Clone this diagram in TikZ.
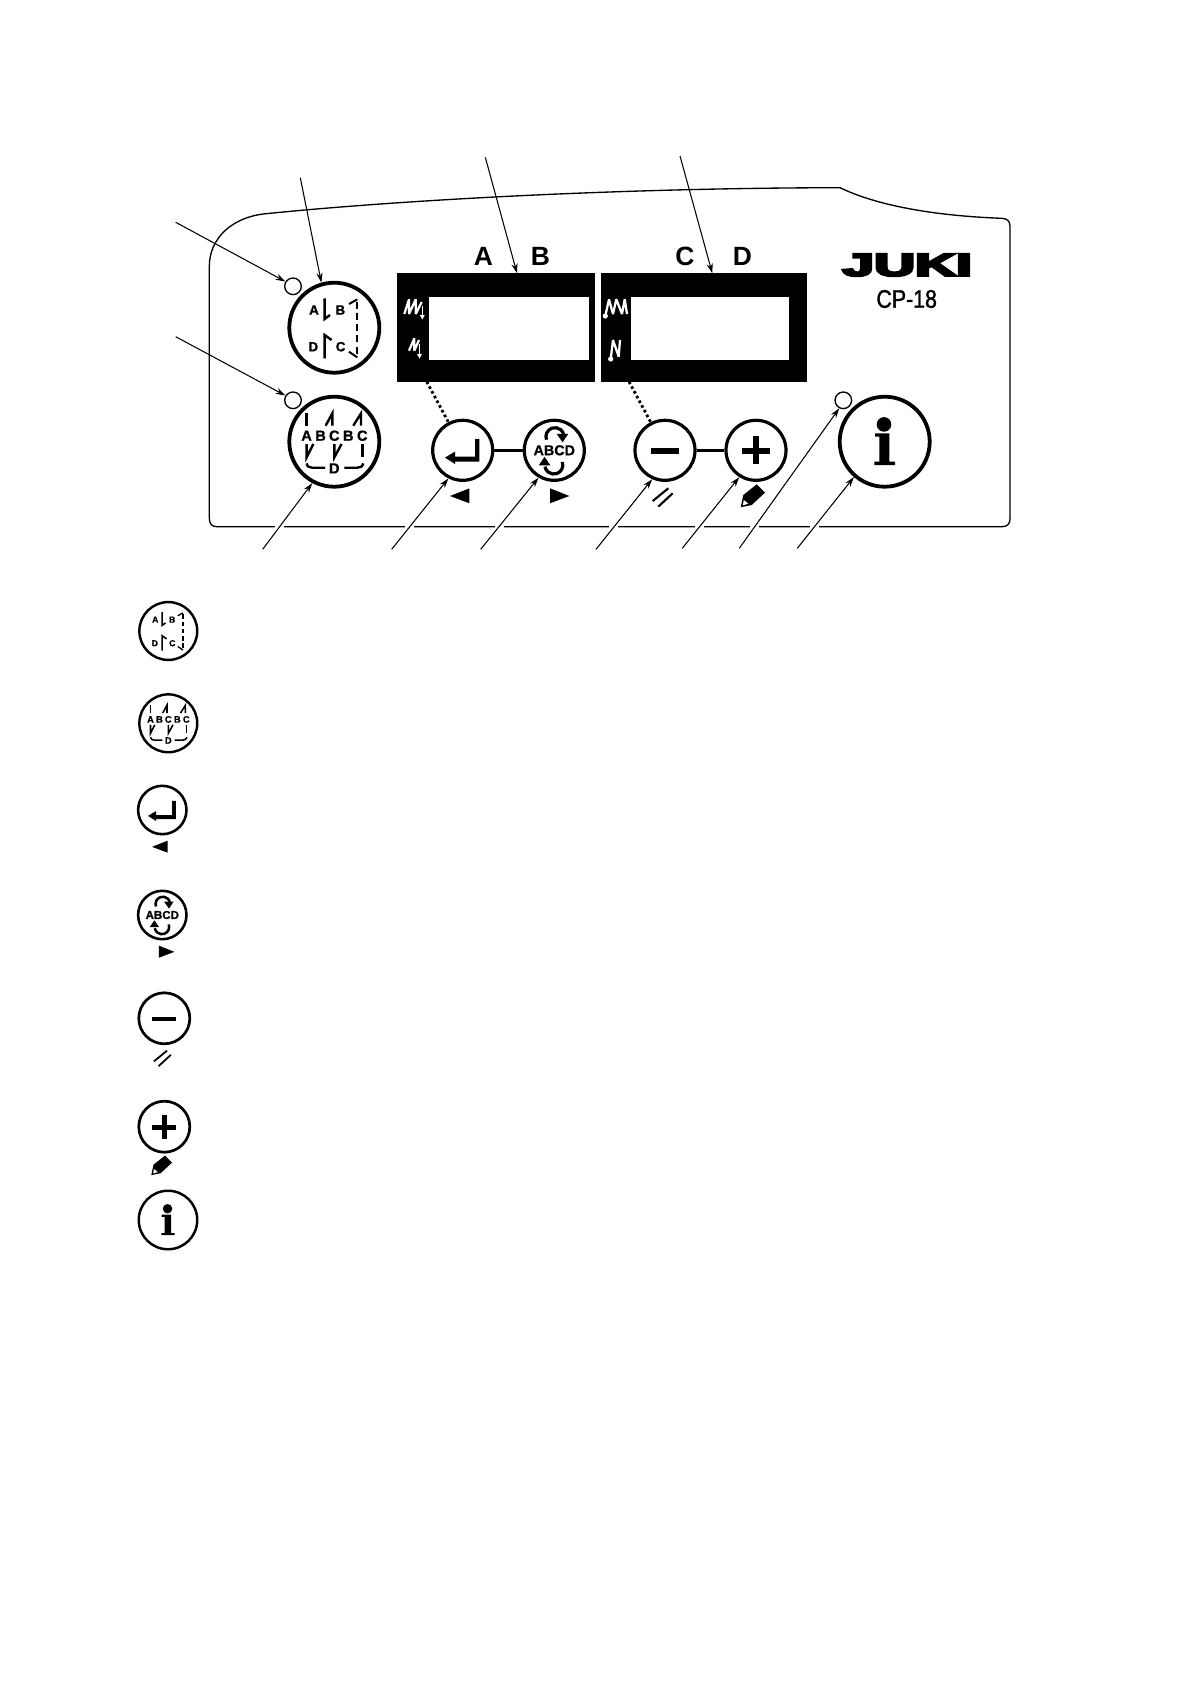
\documentclass[tikz,border=0pt]{standalone}
\usepackage{tikz}
\usepackage{graphicx}
\usepackage{fontspec}
\setsansfont{Liberation Sans}
\newfontfamily\logofont[FakeBold=7]{Liberation Sans Bold}
\newfontfamily\keyfont[FakeBold=0.8]{Liberation Sans Bold}
\newfontfamily\modelfont[FakeBold=1.5]{Liberation Sans}
\usetikzlibrary{arrows.meta}
\def\ks{1}
\tikzset{
	ks/.store in=\ks,
	sw/.style={line width=\ks*#1*0.709pt},
	listkey/.style={scale=#1,transform shape,ks=#1},
	bigring/.style={circle,draw,inner sep=0pt,sw=3.8,minimum size=2.25cm},
	smallring/.style={circle,draw,inner sep=0pt,sw=3.2,minimum size=1.5cm},
	led/.style={circle,draw,fill=white,inner sep=0pt,line width=0.95pt,minimum size=0.415cm},
	keytxt/.style={inner sep=0pt,font=\keyfont\fontsize{#1}{#1}\selectfont},
	slot/.style={inner sep=0pt,font=\sffamily\bfseries\fontsize{18.8}{20}\selectfont},
	lcdframe/.style={fill=black,inner sep=0pt,outer sep=0pt,minimum width=#1,minimum height=2.71cm},
	lcdface/.style={fill=white,inner sep=0pt,outer sep=0pt,minimum width=#1,minimum height=1.57cm},
	lcdmark/.style={draw=white,line width=1.6pt,miter limit=2},
	leader/.style={line width=0.75pt,-{Stealth[length=7pt,width=4.4pt]}},
	gapline/.style={draw=white,line width=1.6pt},
	dotline/.style={line width=2pt,dash pattern=on 1.9pt off 1.9pt},
	pics/modekey/.style={code={
		\node [bigring] (-ring) at (0,0) {};
		\node [keytxt=9.6] at (-20.3,17.7) {A};
		\node [keytxt=9.6] at (6,17.7) {B};
		\node [keytxt=9.6] at (6.3,-19) {C};
		\node [keytxt=9.6] at (-21,-19) {D};
		\draw [sw=2.4] (-9.7,29.3) -- (-9.7,8.7) -- (-4.3,12.7);
		\draw [sw=2.4] (-2.7,-12.3) -- (-9.7,-7.3) -- (-9.7,-30.7);
		\draw [sw=2] (14.7,23.7) -- (23,28.3);
		\draw [sw=2] (14.7,-24) -- (23,-29.7);
		\draw [sw=2,dash pattern=on \ks*5pt off \ks*3pt] (23,26) -- (23,-28);
	}},
	pics/cyclekey/.style={code={
		\node [bigring] (-ring) at (0,0) {};
		\node [keytxt=10.4] at (-27.7,6) {A};
		\node [keytxt=10.4] at (-13.7,6) {B};
		\node [keytxt=10.4] at (0,6) {C};
		\node [keytxt=10.4] at (14,6) {B};
		\node [keytxt=10.4] at (28,6) {C};
		\node [keytxt=10.4] at (0,-26.7) {D};
		\draw [sw=2.4] (-27.7,28.3) -- (-27.7,16);
		\draw [sw=2.4] (-8.7,16) -- (-2,28.3) -- (-2,16);
		\draw [sw=2.4] (19,16) -- (26.7,28.3) -- (26.7,16);
		\draw [sw=2.4] (-27.7,-2.3) -- (-27.7,-15.7) -- (-21,-2.3);
		\draw [sw=2.4] (0,-2.3) -- (0,-15.7) -- (7.3,-2.3);
		\draw [sw=2.4] (28,-2.3) -- (28,-15.7);
		\draw [sw=2.4] (-27.7,-21.7) .. controls (-27,-25) and (-25,-26) .. (-22,-26) -- (-9.3,-26);
		\draw [sw=2.4] (10,-26) -- (23,-26) .. controls (26,-26) and (28,-25) .. (29,-21.7);
	}},
	pics/enterkey/.style={code={
		\node [smallring] (-ring) at (0,0) {};
		\fill (12.3,11.3) -- (16.7,11.3) -- (16.7,-11.3) -- (-7.7,-11.3) -- (-7.7,-13.7) -- (-17.7,-7.3) -- (-7.7,-1.3) -- (-7.7,-6.3) -- (12.3,-6.3) -- cycle;
		\fill (-12.7,-45.7) -- (6.7,-38) -- (6.7,-53) -- cycle;
	}},
	pics/abcdkey/.style={code={
		\node [smallring] (-ring) at (0,0) {};
		\draw [sw=3.2] (-7.8,10.6) arc (200:10:9);
		\fill (8.3,8) -- (2.3,16.5) -- (14,16.5) -- cycle;
		\draw [sw=3.2] (8,-11.7) arc (20:-170:9);
		\fill (-9.8,-6.5) -- (-15.5,-15) -- (-4,-15) -- cycle;
		\node [keytxt=10.2] at (0,0) {ABCD};
		\fill (-4.3,-38) -- (-4.3,-53) -- (15,-45.7) -- cycle;
	}},
	pics/minuskey/.style={code={
		\node [smallring] (-ring) at (0,0) {};
		\draw [sw=5.6] (-14.3,-0.8) -- (14.3,-0.8);
		\draw [sw=2.1] (-12.3,-50.7) -- (3.3,-38);
		\draw [sw=2.1] (-6.7,-56.3) -- (7.7,-43);
	}},
	pics/pluskey/.style={code={
		\node [smallring] (-ring) at (0,0) {};
		\draw [sw=5.6] (-14.3,-0.8) -- (14.3,-0.8);
		\draw [sw=6] (0,14.3) -- (0,-14);
		\fill (-15.3,-57) -- (-12.7,-44.7) -- (0.7,-34) -- (9,-42.3) -- (-4.3,-54.7) -- cycle;
		\fill [white] (-12.3,-49.7) -- (-13,-55) -- (-7.7,-53.4) -- cycle;
	}},
	pics/infokey/.style={code={
		\node [bigring] (-ring) at (0,0) {};
		\fill (-0.7,17.3) circle (7.3);
		\fill (-9.7,8.3) -- (4.7,8.3) -- (4.7,-20) -- (10.3,-20) -- (10.3,-23.3) -- (-10.3,-23.3) -- (-10.3,-20) -- (-5.3,-20) -- (-5.3,5) -- (-9.7,5) -- cycle;
	}},
}
\begin{document}
\begin{tikzpicture}[x=0.025cm,y=0.025cm]
		\useasboundingbox (0,0) rectangle (1191,-1684);
		\draw [line width=0.95pt] (209.3,-266.7) .. controls (209.3,-238) and (232,-218) .. (263,-214) .. controls (400,-200) and (620,-188) .. (840,-187.7) .. controls (880,-207) and (940,-216) .. (1001.7,-218.3) .. controls (1007,-218.5) and (1010,-221) .. (1010,-226) -- (1010,-519) .. controls (1010,-524) and (1007,-526.7) .. (1002,-526.7) -- (217,-526.7) .. controls (212,-526.7) and (209.3,-524) .. (209.3,-518) -- cycle;
		\draw [gapline] (275.2,-526.7) -- (284.2,-526.7);
		\draw [gapline] (405.2,-526.7) -- (414.2,-526.7);
		\draw [gapline] (494.5,-526.7) -- (503.5,-526.7);
		\draw [gapline] (609.4,-526.7) -- (618.4,-526.7);
		\draw [gapline] (695,-526.7) -- (704,-526.7);
		\draw [gapline] (750.3,-526.7) -- (759.3,-526.7);
		\draw [gapline] (810.1,-526.7) -- (819.1,-526.7);
		\node [lcdframe=4.96cm] (dispab) at (496.2,-327.5) {};
		\node [lcdframe=5.15cm] (dispcd) at (703.7,-327.5) {};
		\node [lcdface=3.985cm] (faceab) at (509,-328.4) {};
		\node [lcdface=3.965cm] (facecd) at (710,-328.4) {};
		\node [slot] (lbla) at (483.3,-256.7) {A};
		\node [slot] (lblb) at (540.3,-256.7) {B};
		\node [slot] (lblc) at (685,-256.7) {C};
		\node [slot] (lbld) at (742.3,-256.7) {D};
		\draw [lcdmark] (404.3,-314) -- (409,-299.3) -- (409,-314) -- (415.7,-299.3) -- (415.7,-314) -- (421.7,-302);
		\draw [lcdmark,line width=0.8pt] (422.3,-306) -- (422.3,-315);
		\fill [white] (422.3,-319.5) -- (419.8,-315) -- (424.8,-315) -- cycle;
		\draw [lcdmark] (409,-350.7) -- (414.3,-338.3) -- (414.3,-350.7) -- (419,-340);
		\draw [lcdmark,line width=0.8pt] (419.5,-344) -- (419.5,-354);
		\fill [white] (419.5,-358.5) -- (417,-354) -- (422,-354) -- cycle;
		\fill [white] (605.3,-316) circle (2.6);
		\draw [lcdmark] (605.3,-316) -- (609,-299.3) -- (613,-314) -- (616.3,-299.3) -- (622,-314) -- (624.7,-299.3) -- (627,-314);
		\fill [white] (610.7,-359) circle (2.6);
		\draw [lcdmark] (610.7,-359) -- (613,-340) -- (618.7,-356.7) -- (620,-340);
		\pic (moda) at (334.3,-327.7) {modekey};
		\pic (cycl) at (334.3,-441.7) {cyclekey};
		\pic (entr) at (462.7,-450.3) {enterkey};
		\pic (abcd) at (554.3,-450.3) {abcdkey};
		\pic (mins) at (665,-450.3) {minuskey};
		\pic (plus) at (756,-450.3) {pluskey};
		\pic (info) at (884.7,-441.7) {infokey};
		\node [led] (ledmoda) at (293,-286.3) {};
		\node [led] (ledcycl) at (293,-400.3) {};
		\node [led] (ledinfo) at (843.3,-400.3) {};
		\draw [sw=2.6] (entr-ring) -- (abcd-ring);
		\draw [sw=2.6] (mins-ring) -- (plus-ring);
		\draw [dotline] (dispab.218) -- (entr-ring.117);
		\draw [dotline] (dispcd.216) -- (mins-ring.117);
		\node [inner sep=0pt] (juki) at (907.2,-265) {\resizebox{92pt}{15.6pt}{\logofont JUKI}};
		\node [inner sep=0pt] (model) at (906.7,-299) {\resizebox{43pt}{12.6pt}{\modelfont CP-18}};
		\coordinate (ledmodaend) at (175.7,-222.3);
		\coordinate (modaend) at (300.3,-177.7);
		\coordinate (ledcyclend) at (175.7,-336.7);
		\coordinate (dispabend) at (485.3,-157.3);
		\coordinate (dispcdend) at (680,-156);
		\coordinate (cyclend) at (262.7,-549.3);
		\coordinate (entrend) at (391.7,-549.3);
		\coordinate (abcdend) at (480.7,-549.3);
		\coordinate (minsend) at (596,-549.3);
		\coordinate (plusend) at (682.3,-548.3);
		\coordinate (ledinfoend) at (739.3,-548.3);
		\coordinate (infoend) at (797.3,-548.3);
		\draw [leader] (ledmodaend) -- (ledmoda.148);
		\draw [leader] (modaend) -- (moda-ring.106);
		\draw [leader] (ledcyclend) -- (ledcycl.148);
		\draw [leader] (dispabend) -- (dispab.69);
		\draw [leader] (dispcdend) -- (dispcd.81);
		\draw [leader] (cyclend) -- (cycl-ring.242);
		\draw [leader] (entrend) -- (entr-ring.243);
		\draw [leader] (abcdend) -- (abcd-ring.240);
		\draw [leader] (minsend) -- (mins-ring.246);
		\draw [leader] (plusend) -- (plus-ring.238);
		\draw [leader] (ledinfoend) -- (ledinfo.243);
		\draw [leader] (infoend) -- (info-ring.229);
		\pic [listkey=0.643] (lista) at (168.3,-631) {modekey};
		\pic [listkey=0.643] (listb) at (168.3,-723.3) {cyclekey};
		\pic [listkey=0.806] (listc) at (162.3,-810) {enterkey};
		\pic [listkey=0.806] (listd) at (162.3,-915) {abcdkey};
		\pic [listkey=0.85] (liste) at (164.3,-1018.3) {minuskey};
		\pic [listkey=0.85] (listf) at (164.3,-1126.7) {pluskey};
		\pic [listkey=0.65] (listg) at (168,-1220) {infokey};
		\end{tikzpicture}
\end{document}
